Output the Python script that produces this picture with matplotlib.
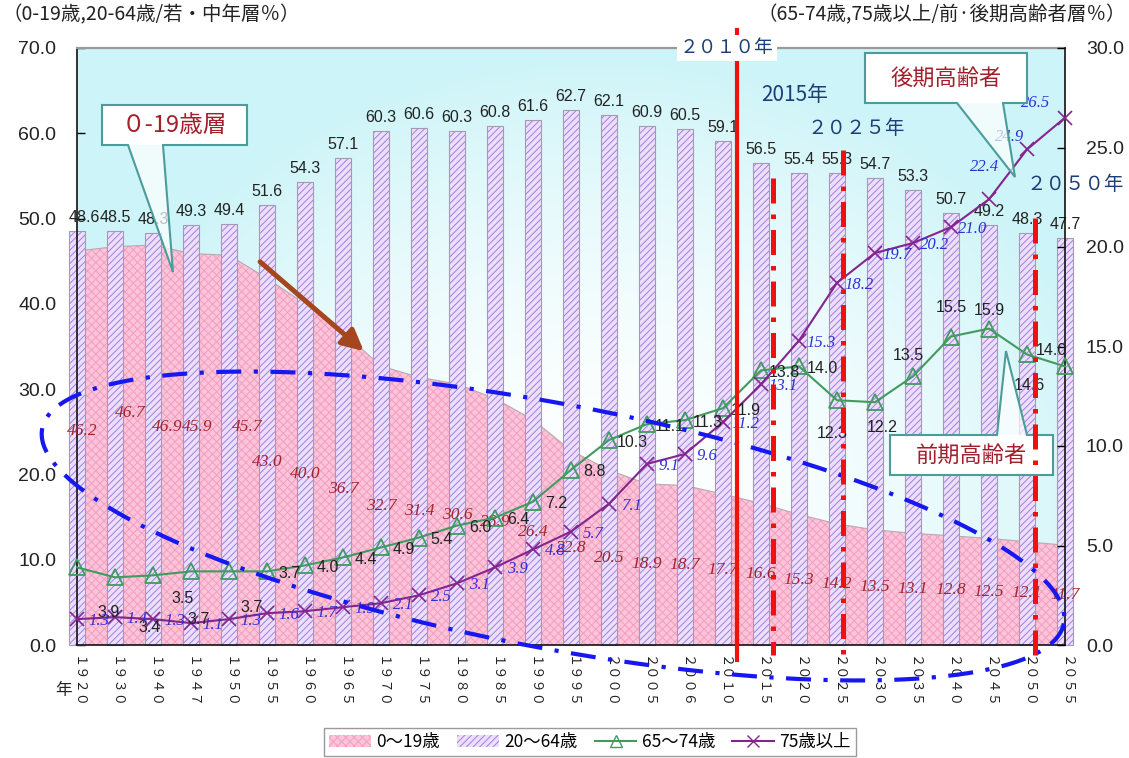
import numpy as np
import matplotlib
matplotlib.use("Agg")
import matplotlib.pyplot as plt
from matplotlib import font_manager as fm
from matplotlib.lines import Line2D
from matplotlib.patches import Patch, Polygon, Rectangle, FancyArrowPatch

# ---- data -------------------------------------------------------------
years = ['1920', '1930', '1940', '1947', '1950', '1955', '1960', '1965', '1970',
         '1975', '1980', '1985', '1990', '1995', '2000', '2005', '2006', '2010',
         '2015', '2020', '2025', '2030', '2035', '2040', '2045', '2050', '2055']
age_0_19 = [46.2, 46.7, 46.9, 45.9, 45.7, 43.0, 40.0, 36.7, 32.7, 31.4, 30.6, 28.9,
            26.4, 22.8, 20.5, 18.9, 18.7, 17.7, 16.6, 15.3, 14.2, 13.5, 13.1, 12.8,
            12.5, 12.1, 11.7]
age_20_64 = [48.6, 48.5, 48.3, 49.3, 49.4, 51.6, 54.3, 57.1, 60.3, 60.6, 60.3, 60.8,
             61.6, 62.7, 62.1, 60.9, 60.5, 59.1, 56.5, 55.4, 55.3, 54.7, 53.3, 50.7,
             49.2, 48.3, 47.7]
age_65_74 = [3.9, 3.4, 3.5, 3.7, 3.7, 3.7, 4.0, 4.4, 4.9, 5.4, 6.0, 6.4, 7.2, 8.8,
             10.3, 11.1, 11.3, 11.9, 13.8, 14.0, 12.3, 12.2, 13.5, 15.5, 15.9, 14.6, 14.0]
age_75_up = [1.3, 1.4, 1.3, 1.1, 1.3, 1.6, 1.7, 1.9, 2.1, 2.5, 3.1, 3.9, 4.8, 5.7,
             7.1, 9.1, 9.6, 11.2, 13.1, 15.3, 18.2, 19.7, 20.2, 21.0, 22.4, 24.9, 26.5]
left_ticks = [0, 10, 20, 30, 40, 50, 60, 70]
right_ticks = [0, 5, 10, 15, 20, 25, 30]
legend_labels = ['0〜19歳', '20〜64歳', '65〜74歳', '75歳以上']

# ---- layout helpers ---------------------------------------------------
W, H = 1129, 758


def P(px, py):
    """pixel position (y down) -> figure fraction"""
    return (px / W, 1 - py / H)


installed = {f.name for f in fm.fontManager.ttflist}
NARROW = 'Liberation Sans Narrow' in installed
NUM = 'Liberation Sans Narrow' if NARROW else 'Liberation Sans'
NUM_SIZE = 13 if NARROW else 11.5
TICK_SIZE = 17 if NARROW else 14
SERIF = 'Liberation Serif'
JP = ['Noto Sans CJK JP', 'DejaVu Sans']
plt.rcParams['font.family'] = JP
plt.rcParams['hatch.linewidth'] = 0.7

NAVY = '#1d3f77'
DARKRED = '#a31f2c'
TEAL = '#4c9c9c'
GREEN = '#3f9b5e'
PURPLE = '#84258f'
BLUE_LBL = '#2f2fd6'
RED_LBL = '#a3242c'

fig = plt.figure(figsize=(W / 100, H / 100), dpi=100)
fig.patch.set_facecolor('white')
L, R, T, B = 77, 1065, 48, 645
rect = [L / W, 1 - B / H, (R - L) / W, (B - T) / H]

# plot-area background: pale cyan fading to white towards the lower middle
bg = fig.add_axes(rect, zorder=-1)
yy, xx = np.mgrid[T:B, L:R]
d = np.sqrt(((xx - 600) / 540.0) ** 2 + ((yy - 520) / 470.0) ** 2)
wgt = np.clip(d, 0, 1) ** 1.8
cyan = np.array([205, 244, 248]) / 255.0
img = (1 - wgt)[..., None] * np.ones(3) + wgt[..., None] * cyan
bg.imshow(img, aspect='auto', extent=(0, 1, 0, 1), origin='upper')
bg.axis('off')

# ---- primary axis: 0-19 area and 20-64 bars ---------------------------
ax = fig.add_axes(rect)
ax.patch.set_visible(False)
x = np.arange(len(years))

ax.fill_between(x, 0, age_0_19, facecolor='#fcc4d9', edgecolor='#f39ec0',
                hatch='xxxx', linewidth=0, zorder=1)
ax.plot(x, age_0_19, color='#b9a9b3', lw=0.8, zorder=1.1)
ax.bar(x, age_20_64, width=0.44, color='#ebdffb', edgecolor='#a47ce6',
       hatch='/////', linewidth=0, zorder=2, clip_on=False)
ax.bar(x, age_20_64, width=0.44, facecolor='none', edgecolor='#a39bb0',
       linewidth=0.8, zorder=2.1, clip_on=False)
ax.set_xlim(0, len(years) - 1)
ax.set_ylim(0, 70)

# bar value labels
for i, v in enumerate(age_20_64):
    dx = 7 if i == 0 else 0
    ax.annotate(f'{v:.1f}', (i, v), xytext=(dx, 6), textcoords='offset pixels',
                ha='center', va='bottom', fontsize=NUM_SIZE, family=NUM,
                color='#222222', zorder=3, annotation_clip=False)

# 0-19 labels, placed at the middle of the area
red_shift = {0: (5, -17), 1: (15, -33), 2: (14, -18), 3: (6, -22), 4: (18, -23)}
for i, v in enumerate(age_0_19):
    dx, dy = red_shift.get(i, (0, 0))
    ax.annotate(f'{v:.1f}', (i, v / 2), xytext=(dx, -dy), textcoords='offset pixels',
                ha='center', va='center', fontsize=12.5, family=SERIF, style='italic',
                color=RED_LBL, zorder=3, annotation_clip=False)

ax.set_yticks(left_ticks)
ax.set_yticklabels([f'{v:.1f}' for v in left_ticks], family=NUM, fontsize=TICK_SIZE,
                   color='#222222')
ax.tick_params(axis='y', direction='in', length=6, width=1, pad=15)
fw = str.maketrans('0123456789', '０１２３４５６７８９')
ax.set_xticks(x)
ax.set_xticklabels([y.translate(fw) for y in years], rotation=270, fontsize=9.5,
                   va='top', ha='center', color='#222222')
ax.tick_params(axis='x', direction='in', length=6, width=1, pad=8)
for s in ('left', 'bottom'):
    ax.spines[s].set_color('#111111')
    ax.spines[s].set_linewidth(1.2)
ax.spines['top'].set_color('#9a9a9a')
ax.spines['top'].set_linewidth(1.6)
ax.spines['right'].set_visible(False)

# ---- secondary axis: elderly lines ------------------------------------
ax2 = ax.twinx()
ax2.set_ylim(0, 30)
ax2.plot(x, age_65_74, color=GREEN, lw=1.5, marker='^', ms=11, mfc='none',
         mec=GREEN, mew=1.3, zorder=4, clip_on=False)
ax2.plot(x, age_75_up, color=PURPLE, lw=1.5, marker='x', ms=10, mec=PURPLE,
         mew=1.2, zorder=4, clip_on=False)
ax2.set_yticks(right_ticks)
ax2.set_yticklabels([f'{v:.1f}' for v in right_ticks], family=NUM, fontsize=TICK_SIZE,
                    color='#222222')
ax2.tick_params(axis='y', direction='in', length=6, width=1, pad=15)
for s in ('left', 'top', 'bottom'):
    ax2.spines[s].set_visible(False)
ax2.spines['right'].set_color('#111111')
ax2.spines['right'].set_linewidth(1.2)

green_shift = {0: (32, 45), 1: (35, 50), 2: (30, 23), 3: (8, 48), 4: (23, 36),
               20: (-5, 33), 21: (7, 25), 22: (-5, -21), 23: (0, -29), 24: (0, -18),
               25: (2, 31), 26: (-14, -16)}
for i, v in enumerate(age_65_74):
    dx, dy = green_shift.get(i, (23, 2))
    ax2.annotate(f'{v:.1f}', (i, v), xytext=(dx, -dy), textcoords='offset pixels',
                 ha='center', va='center', fontsize=NUM_SIZE, family=NUM,
                 color='#222222', zorder=5, annotation_clip=False)

blue_shift = {24: (-4, -32), 25: (-17, -12), 26: (-29, -15)}
for i, v in enumerate(age_75_up):
    dx, dy = blue_shift.get(i, (22, 2))
    ax2.annotate(f'{v:.1f}', (i, v), xytext=(dx, -dy), textcoords='offset pixels',
                 ha='center', va='center', fontsize=12, family=SERIF, style='italic',
                 color=BLUE_LBL, zorder=5, annotation_clip=False)

# ---- callouts ---------------------------------------------------------
def callout(box, base, tip, text, size, pointer_down=True):
    x0, y0, x1, y1 = box
    fig.add_artist(Rectangle(P(x0, y1), (x1 - x0) / W, (y1 - y0) / H,
                             transform=fig.transFigure, facecolor='white',
                             edgecolor='none', zorder=6))
    by = y1 if pointer_down else y0
    fig.add_artist(Polygon([P(base[0], by), P(base[1], by), P(*tip)], closed=True,
                           transform=fig.transFigure, facecolor='white', alpha=0.7,
                           edgecolor='none', zorder=6))
    if pointer_down:
        pts = [(x0, y0), (x1, y0), (x1, y1), (base[1], y1), tip, (base[0], y1), (x0, y1)]
    else:
        pts = [(x0, y0), (base[0], y0), tip, (base[1], y0), (x1, y0), (x1, y1), (x0, y1)]
    fig.add_artist(Polygon([P(*p) for p in pts], closed=True, transform=fig.transFigure,
                           facecolor='none', edgecolor=TEAL, lw=1.5, zorder=6.1))
    fig.text(*P((x0 + x1) / 2, (y0 + y1) / 2), text, ha='center', va='center',
             fontsize=size, color=DARKRED, zorder=6.2)


callout((102, 105, 247, 145), (128, 163), (173, 272), '０-19歳層', 17)
callout((865, 53, 1027, 103), (957, 1003), (1015, 177), '後期高齢者', 16)
callout((890, 435, 1053, 475), (997, 1027), (1006, 351), '前期高齢者', 16,
        pointer_down=False)

# ---- brown arrow ------------------------------------------------------
fig.add_artist(FancyArrowPatch(P(258, 260), P(366, 353), transform=fig.transFigure,
                               arrowstyle='-|>', mutation_scale=32, lw=3.6,
                               color='#a5461f', zorder=6))

# ---- blue dash-dot ellipse -------------------------------------------
t = np.linspace(0, 2 * np.pi, 400)
th = np.deg2rad(10.8)
ex = 553 + 520 * np.cos(t) * np.cos(th) - 122 * np.sin(t) * np.sin(th)
ey = 526 + 520 * np.cos(t) * np.sin(th) + 122 * np.sin(t) * np.cos(th)
fig.add_artist(Line2D(ex / W, 1 - ey / H, transform=fig.transFigure, color='#1717f0',
                      lw=3.0, linestyle=(0, (6, 3, 1, 3)), zorder=7))

# ---- red year markers -------------------------------------------------
fig.add_artist(Line2D([737 / W] * 2, [1 - 30 / H, 1 - 660 / H], transform=fig.transFigure,
                      color='#f01010', lw=3.0, zorder=7.5))
for px, ptop, pbot in [(773, 178, 655), (843, 150, 655), (1035, 218, 662)]:
    fig.add_artist(Line2D([px / W] * 2, [1 - ptop / H, 1 - pbot / H],
                          transform=fig.transFigure, color='#f01010', lw=3.6,
                          linestyle=(0, (5, 2.2, 0.9, 2.2)), zorder=7.5))

fig.text(*P(727, 48), '２０１０年', ha='center', va='center', fontsize=13.5, color=NAVY,
         zorder=8, bbox=dict(facecolor='white', edgecolor='none', pad=2))
fig.text(*P(795, 95), '2015年', ha='center', va='center', fontsize=15, color=NAVY, zorder=8)
fig.text(*P(856, 128), '２０２５年', ha='center', va='center', fontsize=14, color=NAVY, zorder=8)
fig.text(*P(1075, 185), '２０５０年', ha='center', va='center', fontsize=14, color=NAVY, zorder=8)

# ---- axis titles ------------------------------------------------------
fig.text(*P(2, 15), '（0-19歳,20-64歳/若・中年層％）', ha='left', va='center',
         fontsize=14, color='#222222')
fig.text(*P(1126, 15), '（65-74歳,75歳以上/前·後期高齢者層％）', ha='right', va='center',
         fontsize=14, color='#222222')
fig.text(*P(64, 690), '年', ha='center', va='center', fontsize=12, color='#222222')

# ---- legend -----------------------------------------------------------
handles = [
    Patch(facecolor='#fcc4d9', edgecolor='#f39ec0', hatch='xxxx', lw=0),
    Patch(facecolor='#ebdffb', edgecolor='#a47ce6', hatch='/////', lw=0),
    Line2D([], [], color=GREEN, lw=1.5, marker='^', ms=9, mfc='none', mec=GREEN),
    Line2D([], [], color=PURPLE, lw=1.5, marker='x', ms=9, mec=PURPLE),
]
fig.legend(handles, legend_labels, loc='center', bbox_to_anchor=P(590, 742), ncol=4,
           frameon=True, fancybox=False, edgecolor='#9a9a9a', framealpha=1,
           prop={'family': JP, 'size': 12.5}, handlelength=2.4, handletextpad=0.3,
           columnspacing=1.0, borderpad=0.3)

fig.savefig('out.png', dpi=100)
